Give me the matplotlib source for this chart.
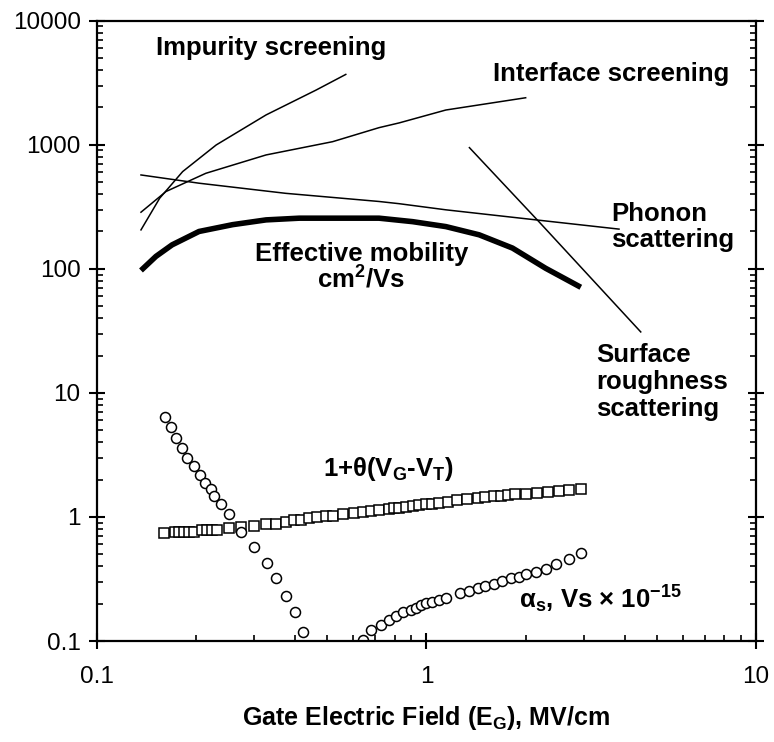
import numpy as np
import matplotlib
matplotlib.use("Agg")
import matplotlib.pyplot as plt
from matplotlib.ticker import LogLocator, NullFormatter, FixedLocator, FixedFormatter

plt.rcParams["font.family"] = ["Liberation Sans", "DejaVu Sans"]
plt.rcParams["mathtext.fontset"] = "custom"
plt.rcParams["mathtext.rm"] = "Liberation Sans:bold"
plt.rcParams["mathtext.it"] = "Liberation Sans:bold"
plt.rcParams["mathtext.bf"] = "Liberation Sans:bold"

# mobility components, cm^2/Vs vs gate field (MV/cm)
eff_x = [0.136, 0.151, 0.169, 0.204, 0.258, 0.326, 0.411, 0.655, 0.718, 0.908,
         1.145, 1.445, 1.824, 2.30, 2.94]
eff_y = [97, 126, 156, 200, 227, 248, 256, 256, 256, 240, 219, 188, 147, 101, 71]

phonon_x = [0.136, 0.204, 0.374, 0.718, 0.826, 1.145, 2.15, 3.84]
phonon_y = [571, 490, 406, 349, 335, 299, 248, 209]

impurity_x = [0.136, 0.155, 0.182, 0.230, 0.326, 0.462, 0.569]
impurity_y = [206, 371, 608, 996, 1740, 2757, 3690]

interface_x = [0.136, 0.162, 0.214, 0.326, 0.519, 0.718, 0.826, 1.145, 2.0]
interface_y = [286, 420, 589, 828, 1059, 1374, 1500, 1906, 2393]

rough_x = [1.35, 2.20, 4.47]
rough_y = [948, 238, 31.0]

# 1 + theta(VG - VT)
theta_x = [0.160, 0.172, 0.177, 0.184, 0.190, 0.197, 0.209, 0.216, 0.224, 0.232,
           0.252, 0.273, 0.300, 0.326, 0.349, 0.374, 0.397, 0.416, 0.441, 0.464,
           0.495, 0.519, 0.559, 0.604, 0.640, 0.678, 0.718, 0.770, 0.798, 0.826,
           0.866, 0.908, 0.950, 0.996, 1.04, 1.09, 1.16, 1.24, 1.33, 1.43,
           1.51, 1.60, 1.68, 1.77, 1.85, 2.00, 2.17, 2.33, 2.53, 2.71, 2.94]
theta_y = [0.748, 0.762, 0.762, 0.762, 0.762, 0.762, 0.782, 0.786, 0.786, 0.786,
           0.820, 0.831, 0.847, 0.883, 0.883, 0.917, 0.940, 0.951, 0.988, 1.00,
           1.01, 1.02, 1.05, 1.08, 1.10, 1.12, 1.13, 1.16, 1.17, 1.19,
           1.20, 1.22, 1.25, 1.26, 1.28, 1.30, 1.33, 1.36, 1.40, 1.42,
           1.45, 1.48, 1.48, 1.50, 1.52, 1.54, 1.57, 1.59, 1.62, 1.64, 1.67]

# alpha_s, Vs x 1e-15
alpha_x = [0.161, 0.168, 0.174, 0.181, 0.188, 0.197, 0.205, 0.213, 0.222, 0.227,
           0.238, 0.252, 0.273, 0.300, 0.327, 0.349, 0.374, 0.400, 0.423,
           0.640, 0.678, 0.727, 0.770, 0.807, 0.846, 0.897, 0.929, 0.962, 0.996,
           1.04, 1.09, 1.15, 1.26, 1.35, 1.43, 1.51, 1.60, 1.70, 1.80, 1.91,
           2.00, 2.15, 2.30, 2.47, 2.71, 2.94]
alpha_y = [6.38, 5.33, 4.30, 3.61, 3.00, 2.57, 2.18, 1.89, 1.67, 1.48,
           1.26, 1.05, 0.762, 0.574, 0.429, 0.321, 0.231, 0.170, 0.119,
           0.102, 0.123, 0.135, 0.148, 0.160, 0.170, 0.178, 0.186, 0.196, 0.201,
           0.208, 0.214, 0.222, 0.242, 0.254, 0.267, 0.279, 0.290, 0.305, 0.321, 0.329,
           0.346, 0.363, 0.384, 0.416, 0.462, 0.511]

x_ticks = [0.1, 1, 10]
x_tick_labels = ["0.1", "1", "10"]
y_ticks = [0.1, 1, 10, 100, 1000, 10000]
y_tick_labels = ["0.1", "1", "10", "100", "1000", "10000"]

fig = plt.figure(figsize=(7.74, 7.42), dpi=100)
ax = fig.add_axes([0.1253, 0.1361, 0.8514, 0.836])

ax.plot(eff_x, eff_y, color="black", lw=4.0, solid_capstyle="butt")
ax.plot(phonon_x, phonon_y, color="black", lw=1.1)
ax.plot(impurity_x, impurity_y, color="black", lw=1.1)
ax.plot(interface_x, interface_y, color="black", lw=1.1)
ax.plot(rough_x, rough_y, color="black", lw=1.1)
ax.plot(theta_x, theta_y, ls="none", marker="s", ms=7.0, mfc="white",
        mec="black", mew=1.1)
ax.plot(alpha_x, alpha_y, ls="none", marker="o", ms=7.2, mfc="white",
        mec="black", mew=1.1)

ax.set_xscale("log")
ax.set_yscale("log")
ax.set_xlim(0.1, 10)
ax.set_ylim(0.1, 10000)

ax.xaxis.set_major_locator(FixedLocator(x_ticks))
ax.xaxis.set_major_formatter(FixedFormatter(x_tick_labels))
ax.yaxis.set_major_locator(FixedLocator(y_ticks))
ax.yaxis.set_major_formatter(FixedFormatter(y_tick_labels))
ax.xaxis.set_minor_locator(LogLocator(base=10, subs=np.arange(2, 10)))
ax.yaxis.set_minor_locator(LogLocator(base=10, subs=np.arange(2, 10)))
ax.xaxis.set_minor_formatter(NullFormatter())
ax.yaxis.set_minor_formatter(NullFormatter())

for s in ax.spines.values():
    s.set_linewidth(1.6)
ax.tick_params(which="major", direction="inout", length=11.5, width=1.5,
               labelsize=17.5, top=False, right=True, pad=12)
ax.tick_params(which="minor", direction="in", length=4.2, width=1.2,
               top=False, right=True)
ax.tick_params(axis="y", which="major", pad=6)

ax.set_xlabel("Gate Electric Field (E$_\\mathregular{G}$), MV/cm",
              fontsize=18, fontweight="bold", labelpad=12)

lbl = dict(fontsize=18.5, fontweight="bold", color="black")
ax.text(0.338, 6040, "Impurity screening", ha="center", va="center", **lbl)
ax.text(3.63, 3734, "Interface screening", ha="center", va="center", **lbl)
ax.text(3.63, 219, "Phonon\nscattering", ha="left", va="center",
        linespacing=1.1, **lbl)
ax.text(3.27, 12.2, "Surface\nroughness\nscattering", ha="left", va="center",
        linespacing=1.15, **lbl)
ax.text(0.634, 102, "Effective mobility\ncm$^\\mathregular{2}$/Vs", ha="center",
        va="center", linespacing=1.0, **lbl)
ax.text(0.766, 2.43, "1+θ(V$_\\mathregular{G}$-V$_\\mathregular{T}$)",
        ha="center", va="center", **lbl)
ax.text(1.91, 0.215, "α$_\\mathregular{s}$, Vs × 10$^\\mathregular{-15}$",
        ha="left", va="center", **lbl)

fig.savefig("out.png", dpi=100)
